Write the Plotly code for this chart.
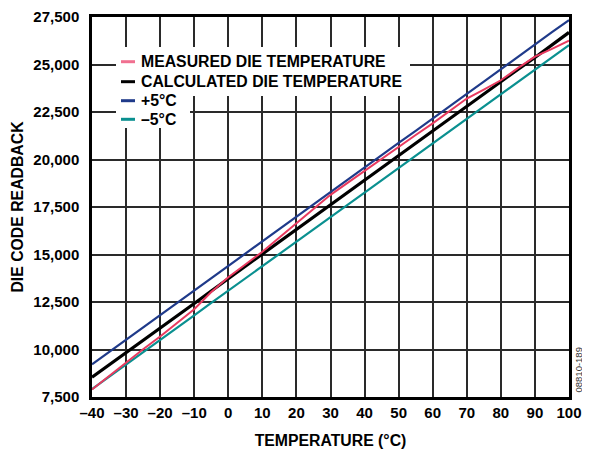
import plotly.graph_objects as go

# ---- data ----
temperature_c = [-40, -35, -30, -25, -20, -15, -10, -5, 0, 5, 10, 15, 20, 25, 30,
                 35, 40, 45, 50, 55, 60, 65, 70, 75, 80, 85, 90, 95, 100]

measured_die = [7900, 8610, 9330, 10010, 10680, 11390, 12120, 13030, 13800, 14470,
                15140, 15890, 16640, 17420, 18140, 18770, 19410, 20050, 20680, 21290,
                21900, 22560, 23210, 23680, 24170, 24810, 25410, 25820, 26250]

calculated_die = [8540, 9180, 9840, 10490, 11140, 11780, 12420, 13080, 13730, 14370,
                  15020, 15670, 16330, 16960, 17610, 18260, 18920, 19560, 20210, 20850,
                  21510, 22150, 22800, 23450, 24080, 24740, 25370, 26020, 26690]

plus_5c = [9220, 9870, 10510, 11170, 11810, 12440, 13100, 13740, 14390, 15040,
           15690, 16330, 16990, 17640, 18280, 18920, 19570, 20230, 20870, 21510,
           22170, 22810, 23450, 24100, 24760, 25390, 26040, 26700, 27340]

minus_5c = [7920, 8560, 9210, 9870, 10500, 11150, 11800, 12450, 13090, 13730,
            14380, 15040, 15680, 16320, 16970, 17610, 18260, 18910, 19560, 20210,
            20850, 21490, 22140, 22790, 23430, 24080, 24740, 25380, 26020]

series_names = ["MEASURED DIE TEMPERATURE", "CALCULATED DIE TEMPERATURE", "+5°C", "–5°C"]

x_tick_vals = [-40, -30, -20, -10, 0, 10, 20, 30, 40, 50, 60, 70, 80, 90, 100]
x_tick_text = ["–40", "–30", "–20", "–10", "0", "10", "20", "30", "40", "50",
               "60", "70", "80", "90", "100"]
y_tick_vals = [7500, 10000, 12500, 15000, 17500, 20000, 22500, 25000, 27500]
y_tick_text = ["7,500", "10,000", "12,500", "15,000", "17,500", "20,000",
               "22,500", "25,000", "27,500"]

# ---- style ----
FONT = "Liberation Sans, Arial, Helvetica, sans-serif"
PINK = "#e83a5f"
BLACK = "#000000"
BLUE = "#1f3a8a"
TEAL = "#0a9090"
TICK_SIZE = 15
TEXT_SIZE = 15.8

fig = go.Figure()
series = [
    (plus_5c, BLUE, 2.2, series_names[2]),
    (minus_5c, TEAL, 2.2, series_names[3]),
    (calculated_die, BLACK, 3.2, series_names[1]),
    (measured_die, PINK, 2.0, series_names[0]),
]
for ys, col, w, nm in series:
    fig.add_trace(go.Scatter(x=temperature_c, y=ys, mode="lines", name=nm,
                             line=dict(color=col, width=w), showlegend=False))

# page body adds an 8px offset; margins compensate so the plot area lands at
# screen x 92..569, y 17..397
OFF = 8
L, R, T, B = 92 - OFF, 29, 17 - OFF, 64

def px(xs):
    return (xs - 92) / 477

def py(ys):
    return (397 - ys) / 380

shapes = [
    dict(type="rect", xref="paper", yref="paper", x0=px(116), x1=px(410),
         y0=py(96), y1=py(47), fillcolor="white", line=dict(width=0), layer="above"),
    dict(type="rect", xref="paper", yref="paper", x0=px(116), x1=px(190),
         y0=py(128), y1=py(95), fillcolor="white", line=dict(width=0), layer="above"),
]
legend_rows = [(series_names[0], "#f07090", 61.7),
               (series_names[1], BLACK, 81.7),
               (series_names[2], BLUE, 100.7),
               (series_names[3], TEAL, 119.3)]
annotations = []
for name, col, yy in legend_rows:
    shapes.append(dict(type="line", xref="paper", yref="paper", x0=px(121), x1=px(135),
                       y0=py(yy), y1=py(yy), line=dict(color=col, width=3), layer="above"))
    annotations.append(dict(text=name, xref="paper", yref="paper", x=px(138.5), y=py(yy),
                            xanchor="left", yanchor="middle", showarrow=False,
                            font=dict(family=FONT, size=TEXT_SIZE, color="black", weight="bold")))

annotations.append(dict(text="08810-189", xref="paper", yref="paper", x=px(577.5), y=py(370),
                        xanchor="center", yanchor="middle", showarrow=False, textangle=-90,
                        font=dict(family=FONT, size=9.5, color="#333333")))

fig.update_layout(
    width=590, height=453,
    margin=dict(l=L, r=R, t=T, b=B, autoexpand=False),
    paper_bgcolor="white", plot_bgcolor="white",
    shapes=shapes, annotations=annotations,
    showlegend=False,
    font=dict(family=FONT, color="black"),
)
fig.update_xaxes(
    range=[-40, 100], tickvals=x_tick_vals, ticktext=x_tick_text,
    showgrid=True, gridcolor="#2a2a2a", gridwidth=1.6,
    showline=True, linecolor="black", linewidth=2.5, mirror=True,
    ticks="", zeroline=False,
    tickfont=dict(family=FONT, size=TICK_SIZE, color="black", weight="bold"),
    title=dict(text="TEMPERATURE (°C)", standoff=16,
               font=dict(family=FONT, size=TEXT_SIZE, color="black", weight="bold")),
)
fig.update_yaxes(
    range=[7500, 27500], tickvals=y_tick_vals, ticktext=y_tick_text,
    showgrid=True, gridcolor="#2a2a2a", gridwidth=1.6,
    showline=True, linecolor="black", linewidth=2.5, mirror=True,
    ticks="", zeroline=False, ticklabelstandoff=7,
    tickfont=dict(family=FONT, size=TICK_SIZE, color="black", weight="bold"),
    title=dict(text="DIE CODE READBACK", standoff=6,
               font=dict(family=FONT, size=TEXT_SIZE, color="black", weight="bold")),
)

fig.write_html("out.html")
